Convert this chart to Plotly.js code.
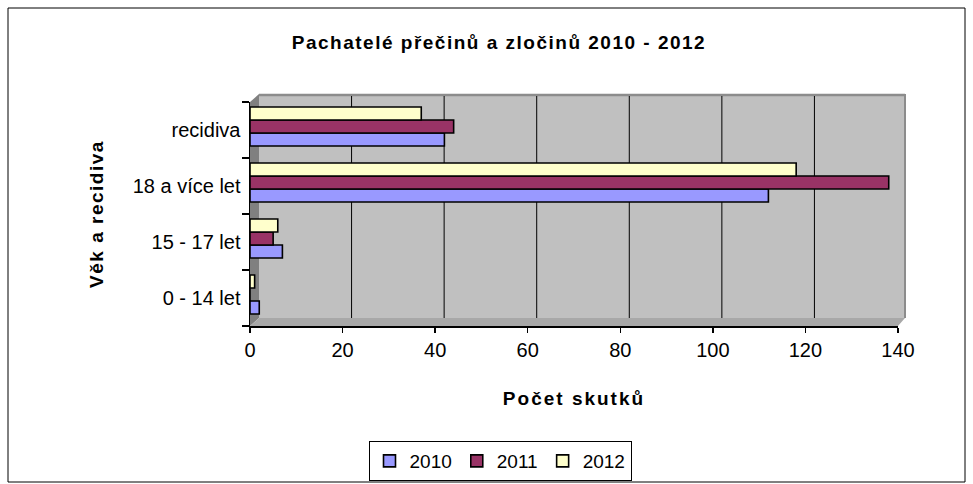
<!DOCTYPE html>
<html><head><meta charset="utf-8">
<script src="https://cdn.plot.ly/plotly-3.0.1.min.js"></script>
<style>
body{margin:0;background:#fff}#c{width:973px;height:484px}
#c .gtitle{letter-spacing:1.5px}
#c .xtitle{letter-spacing:2px}
#c .ytitle{letter-spacing:1.5px}
</style>
</head><body><div id="c"></div>
<script>
const categories = ['0 - 14 let', '15 - 17 let', '18 a více let', 'recidiva'];
const seriesNames = ['2010', '2011', '2012'];
const values2010 = [2, 7, 112, 42];
const values2011 = [0, 5, 138, 44];
const values2012 = [1, 6, 118, 37];
const xTicks = [0, 20, 40, 60, 80, 100, 120, 140];
const colors = ['#9999FF', '#993366', '#FFFFCC'];
const allValues = [values2010, values2011, values2012];

const font = 'Arial, "Liberation Sans", sans-serif';
const barWidth = 0.232;
const barOffsets = [-0.286, -0.054, 0.179];
const traces = allValues.map((v, i) => ({
  type: 'bar', orientation: 'h', name: seriesNames[i],
  y: categories, x: v, width: barWidth, offset: barOffsets[i],
  marker: {color: colors[i], line: {color: '#000', width: 1.6}},
  hoverinfo: 'x'
}));

const T = 102, B = 326, L = 250, R = 898;
const H = B - T, W = R - L;
const px = x => (x - L) / W, py = y => (B - y) / H;
const depthX = 9, depthY = 8, wallTop = 94;

const shapes = [
  // outer frame
  {type: 'rect', xref: 'paper', yref: 'paper', x0: px(8), x1: px(965), y0: py(482), y1: py(8),
   line: {color: '#000', width: 1}, fillcolor: 'rgba(0,0,0,0)', layer: 'below'},
  // back wall
  {type: 'rect', xref: 'paper', yref: 'paper', x0: px(L + depthX), x1: px(R + 7), y0: py(B - depthY), y1: py(wallTop),
   line: {width: 0}, fillcolor: '#C0C0C0', layer: 'below'},
  // top edge of wall
  {type: 'line', xref: 'paper', yref: 'paper', x0: px(L + depthX), x1: px(R + 7), y0: py(wallTop + 1), y1: py(wallTop + 1),
   line: {color: '#8C8C8C', width: 2.5}, layer: 'below'},
  // right edge of wall
  {type: 'line', xref: 'paper', yref: 'paper', x0: px(R + 7), x1: px(R + 7), y0: py(B - depthY), y1: py(wallTop),
   line: {color: '#8C8C8C', width: 2}, layer: 'below'},
  // left side wall
  {type: 'path', xref: 'paper', yref: 'paper',
   path: `M ${px(L)} ${py(T)} L ${px(L + depthX)} ${py(wallTop)} L ${px(L + depthX)} ${py(B - depthY)} L ${px(L)} ${py(B)} Z`,
   line: {width: 0}, fillcolor: '#808080', layer: 'below'},
  // floor
  {type: 'path', xref: 'paper', yref: 'paper',
   path: `M ${px(L)} ${py(B)} L ${px(L + depthX)} ${py(B - depthY)} L ${px(R + 7)} ${py(B - depthY)} L ${px(R)} ${py(B)} Z`,
   line: {width: 0}, fillcolor: '#A8A8A8', layer: 'below'}
];
// back-wall gridlines at each inner tick, set back by the wall depth
xTicks.slice(1, -1).forEach(t => shapes.push({
  type: 'line', xref: 'x', xsizemode: 'pixel', xanchor: t, x0: depthX, x1: depthX,
  yref: 'paper', y0: py(B - depthY), y1: py(wallTop + 2),
  line: {color: '#000', width: 1}, layer: 'below'
}));

const layout = {
  width: 973, height: 484,
  margin: {l: L, r: 973 - R, t: T, b: 484 - B, autoexpand: false},
  paper_bgcolor: '#fff', plot_bgcolor: 'rgba(0,0,0,0)',
  font: {family: font, size: 20, color: '#000'},
  barmode: 'group',
  title: {text: '<b>Pachatelé přečinů a zločinů 2010 - 2012</b>', font: {size: 19, family: font},
          xref: 'container', x: 499 / 973, xanchor: 'center', y: 1 - 42 / 484, yanchor: 'middle'},
  xaxis: {
    range: [0, 140], tickvals: xTicks, ticktext: xTicks.map(String), tickangle: 0,
    showgrid: false,
    showline: true, linecolor: '#000', linewidth: 1.5,
    ticks: 'outside', ticklen: 5, tickcolor: '#000', tickwidth: 1.5,
    ticklabelstandoff: 0,
    zeroline: false, tickfont: {size: 20},
    title: {text: '<b>Počet skutků</b>', font: {size: 19}, standoff: 32}
  },
  yaxis: {
    type: 'category', categoryorder: 'array', categoryarray: categories,
    range: [-0.5, 3.5],
    showline: true, linecolor: '#000', linewidth: 1.5,
    ticks: 'outside', ticklen: 7, tickcolor: '#000', tickwidth: 1.5, tickson: 'boundaries',
    ticklabelstandoff: 4,
    showgrid: false, tickfont: {size: 20},
    title: {text: '<b>Věk a recidiva</b>', font: {size: 19}, standoff: 24}
  },
  showlegend: true,
  legend: {
    orientation: 'h', x: px(500), xanchor: 'center', y: py(441), yanchor: 'top',
    bordercolor: '#000', borderwidth: 1, bgcolor: '#fff',
    font: {size: 19}, traceorder: 'normal', itemwidth: 30
  },
  shapes: shapes
};
Plotly.newPlot('c', traces, layout, {displayModeBar: false, staticPlot: true});
</script></body></html>
